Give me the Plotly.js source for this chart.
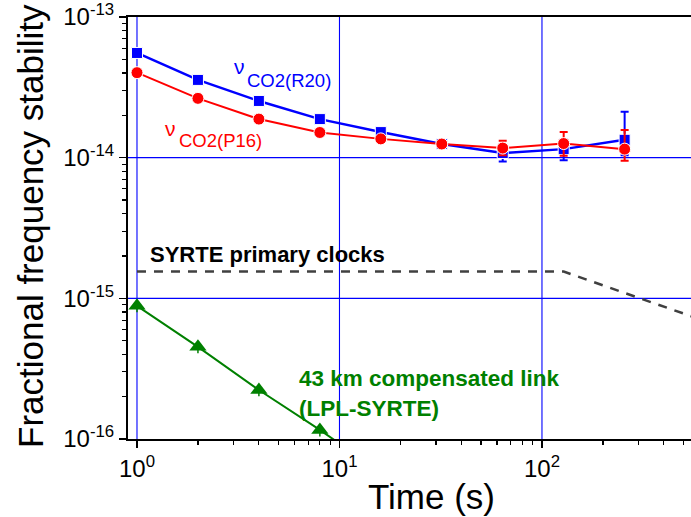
<!DOCTYPE html>
<html>
<head>
<meta charset="utf-8">
<script src="https://cdn.plot.ly/plotly-3.0.1.min.js"></script>
<style>
  html, body { margin: 0; padding: 0; background: #fff; }
  #chart { width: 691px; height: 517px; }
</style>
</head>
<body>
<div id="chart"></div>
<script>
// ---- data ----
const tau = [1, 2, 4, 8, 16, 32, 64, 128, 256];
const r20 = [5.55e-14, 3.57e-14, 2.53e-14, 1.88e-14, 1.52e-14, 1.25e-14, 1.08e-14, 1.15e-14, 1.34e-14];
const r20ErrPlus  = [0, 0, 0, 0, 0, 0.06e-14, 0.14e-14, 0.19e-14, 0.78e-14];
const r20ErrMinus = [0, 0, 0, 0, 0, 0.06e-14, 0.14e-14, 0.19e-14, 0.30e-14];
const p16 = [4.02e-14, 2.64e-14, 1.88e-14, 1.51e-14, 1.36e-14, 1.25e-14, 1.17e-14, 1.26e-14, 1.15e-14];
const p16ErrPlus  = [0, 0, 0, 0, 0, 0.05e-14, 0.15e-14, 0.26e-14, 0.42e-14];
const p16ErrMinus = [0, 0, 0, 0, 0, 0.05e-14, 0.13e-14, 0.23e-14, 0.20e-14];
const tauLink = [1, 2, 4, 8, 16];
const link = [8.85e-16, 4.52e-16, 2.23e-16, 1.16e-16, 5.8e-17];
const linkErr = [0.9e-16, 0.45e-16, 0.22e-16, 0.12e-16, 0.06e-16];
const syrteX = [1, 128, 1000];
const syrteY = [1.55e-15, 1.55e-15, 5.5e-16];

const xTickVals = [1, 10, 100];
const xTickText = ['10<sup>0</sup>', '10<sup>1</sup>', '10<sup>2</sup>'];
const yTickVals = [1e-16, 1e-15, 1e-14, 1e-13];
const yTickText = ['10<sup>-16</sup>', '10<sup>-15</sup>', '10<sup>-14</sup>', '10<sup>-13</sup>'];

// minor tick positions (2..9 in each decade)
const xMinor = [], yMinor = [];
[1, 10, 100].forEach(d => { for (let k = 2; k <= 9; k++) xMinor.push(k * d); });
[1e-16, 1e-15, 1e-14].forEach(d => { for (let k = 2; k <= 9; k++) yMinor.push(k * d); });

const BLUE = '#0000ff', RED = '#ff0000', GREEN = '#008000';
const XR = [-0.0444, 2.736], YR = [-16, -13];
const tickFont = {family: 'Liberation Sans Narrow, Arial Narrow, Liberation Sans, Arial, sans-serif', size: 24, color: '#000'};

const traces = [
  {x: syrteX, y: syrteY, mode: 'lines', line: {color: '#404040', width: 2.5, dash: '9px,8px'}, hoverinfo: 'skip'},
  {x: tauLink, y: link, mode: 'lines+markers',
   line: {color: GREEN, width: 2},
   marker: {symbol: 'triangle-up', size: 15, color: GREEN},
   error_y: {type: 'data', array: linkErr, color: GREEN, thickness: 1.5, width: 0}},
  {x: tau, y: r20, mode: 'lines+markers',
   line: {color: BLUE, width: 2.5},
   marker: {symbol: 'square', size: 11, color: BLUE, line: {color: '#fff', width: 1}},
   error_y: {type: 'data', symmetric: false, array: r20ErrPlus, arrayminus: r20ErrMinus, color: BLUE, thickness: 2, width: 4}},
  {x: tau, y: p16, mode: 'lines+markers',
   line: {color: RED, width: 2},
   marker: {symbol: 'circle', size: 12, color: RED, line: {color: '#fff', width: 1}},
   error_y: {type: 'data', symmetric: false, array: p16ErrPlus, arrayminus: p16ErrMinus, color: RED, thickness: 2, width: 4}}
];

const px = v => (v - 128) / 563;   // pixel -> paper x
const py = v => (439 - v) / 422;   // pixel -> paper y

// blue grid lines at the major ticks (drawn as shapes in data units)
const gridShapes = [];
xTickVals.forEach(v => gridShapes.push({type: 'line', layer: 'between', xref: 'x', yref: 'paper',
  x0: v, x1: v, y0: 0, y1: 1, line: {color: 'rgb(0,0,255)', width: 1.1}}));
yTickVals.slice(1, -1).forEach(v => gridShapes.push({type: 'line', layer: 'between', xref: 'paper', yref: 'y',
  x0: 0, x1: 1, y0: v, y1: v, line: {color: 'rgb(0,0,255)', width: 1.1}}));

const ann = (x, y, text, size, color, extra) => Object.assign({
  xref: 'paper', yref: 'paper', x: px(x), y: py(y), xanchor: 'left', yanchor: 'middle',
  text: text, showarrow: false, borderpad: 0, font: {size: size, color: color}}, extra || {});

const layout = {
  width: 691, height: 517,
  margin: {l: 128, r: 0, t: 17, b: 78, pad: 0},
  paper_bgcolor: '#fff', plot_bgcolor: '#fff',
  showlegend: false,
  font: {family: 'Liberation Sans, Arial, sans-serif', color: '#000'},
  xaxis: {type: 'log', range: XR, fixedrange: true,
    tickmode: 'array', tickvals: xTickVals, ticktext: xTickText, tickfont: tickFont,
    ticks: 'outside', ticklen: 7, tickwidth: 1.5, tickcolor: '#000',
    minor: {tickmode: 'array', tickvals: xMinor, ticks: 'outside', ticklen: 4, tickwidth: 1.2, tickcolor: '#000', showgrid: false},
    showline: true, linecolor: '#000', linewidth: 2, mirror: true,
    showgrid: false, zeroline: false, showspikes: false},
  yaxis: {type: 'log', range: YR, fixedrange: true,
    tickmode: 'array', tickvals: yTickVals, ticktext: yTickText, tickfont: tickFont,
    ticks: 'outside', ticklen: 7, tickwidth: 1.5, tickcolor: '#000',
    minor: {tickmode: 'array', tickvals: yMinor, ticks: 'outside', ticklen: 4, tickwidth: 1.2, tickcolor: '#000', showgrid: false},
    showline: true, linecolor: '#000', linewidth: 2,
    showgrid: false, zeroline: false, showspikes: false},
  shapes: gridShapes,
  annotations: [
    ann(431, 496, 'Time (s)', 35, '#000', {xanchor: 'center'}),
    ann(31, 226, 'Fractional frequency stability', 35, '#000', {xanchor: 'center', textangle: -90}),
    ann(233, 66, 'ν', 21, BLUE),
    ann(246, 80, 'CO2(R20)', 18.5, BLUE),
    ann(164, 128, 'ν', 21, RED),
    ann(178, 140, 'CO2(P16)', 18.5, RED),
    ann(149, 254, '<b>SYRTE primary clocks</b>', 22, '#000'),
    ann(298, 378, '<b>43 km compensated link</b>', 22.5, GREEN),
    ann(298, 408, '<b>(LPL-SYRTE)</b>', 22.5, GREEN)
  ]
};

Plotly.newPlot('chart', traces, layout, {staticPlot: true, displayModeBar: false});
</script>
</body>
</html>
